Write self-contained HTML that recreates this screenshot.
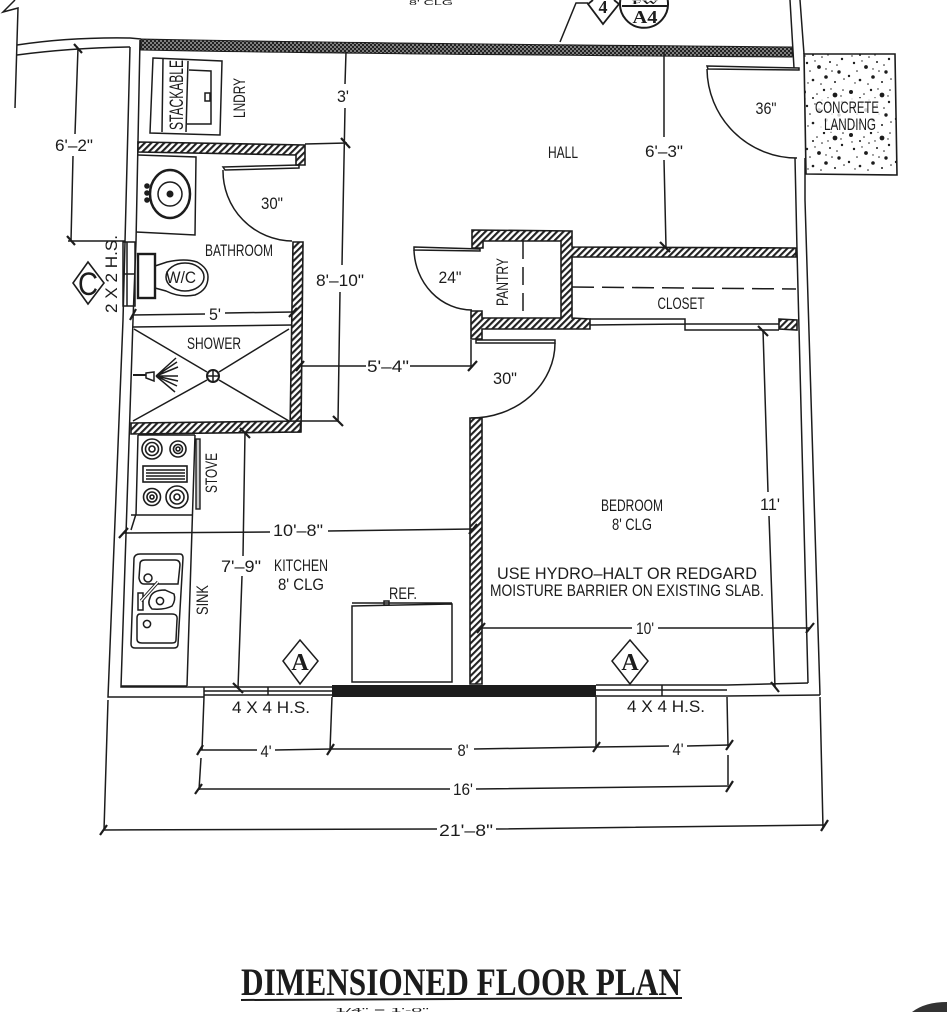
<!DOCTYPE html>
<html><head><meta charset="utf-8"><style>
html,body{margin:0;padding:0;background:#fff;width:947px;height:1012px;overflow:hidden}
svg{display:block}
text{font-family:"Liberation Sans",sans-serif;font-size:16.5px;fill:#1c1c1c;text-anchor:middle}
.l{fill:none;stroke:#1c1c1c;stroke-width:1.5}
.t{fill:none;stroke:#1c1c1c;stroke-width:2.2}
.h{fill:url(#hatch);stroke:#1c1c1c;stroke-width:1.6}
.f{fill:none;stroke:#1c1c1c;stroke-width:2}
.s{font-family:"Liberation Serif",serif;font-weight:bold}
</style></head><body>
<svg width="947" height="1012" viewBox="0 0 947 1012" xmlns="http://www.w3.org/2000/svg">
<defs>
<pattern id="hatch" width="4.6" height="4.6" patternUnits="userSpaceOnUse" patternTransform="rotate(45)"><rect width="4.6" height="4.6" fill="#fff"/><rect width="2.1" height="4.6" fill="#222"/></pattern>
<pattern id="dots" width="4" height="4" patternUnits="userSpaceOnUse"><rect width="4" height="4" fill="#222"/><circle cx="1" cy="1" r=".85" fill="#ccc"/><circle cx="3" cy="3" r=".85" fill="#ccc"/></pattern>
<pattern id="spk" width="47" height="43" patternUnits="userSpaceOnUse"><rect width="47" height="43" fill="#fff"/>
<g fill="#1c1c1c"><circle cx="5" cy="6" r="2"/><circle cx="14" cy="12" r="1"/><circle cx="25" cy="4" r="1.2"/><circle cx="36" cy="9" r="2.4"/><circle cx="43" cy="16" r="1.2"/><circle cx="8" cy="20" r="1.2"/><circle cx="20" cy="24" r="1.9"/><circle cx="31" cy="19" r="1"/><circle cx="40" cy="29" r="1.7"/><circle cx="3" cy="33" r="1.2"/><circle cx="14" cy="37" r="1.3"/><circle cx="27" cy="34" r="1.8"/><circle cx="36" cy="39" r="1"/><circle cx="18" cy="8" r=".8"/><circle cx="44" cy="4" r=".8"/><circle cx="11" cy="28" r=".8"/><circle cx="33" cy="28" r=".8"/><circle cx="23" cy="14" r=".8"/><circle cx="22" cy="41" r=".8"/><circle cx="45" cy="36" r=".8"/><circle cx="29" cy="12" r=".7"/><circle cx="6" cy="13" r=".7"/><circle cx="38" cy="22" r=".8"/><circle cx="16" cy="18" r=".7"/><circle cx="27" cy="26" r=".7"/><circle cx="9" cy="40" r=".7"/><circle cx="42" cy="10" r=".7"/><circle cx="32" cy="3" r=".7"/></g></pattern>
</defs>
<rect width="947" height="1012" fill="#fff"/>

<!-- top-left break and exterior -->
<path class="l" d="M15 0L3 12L18 8L15 108"/>
<path class="l" d="M17 45Q70 37 130 38L141 39M17 55Q70 48 130 47"/>
<!-- exterior left wall -->
<path class="l" d="M130 47L125 242L123 320L108 697H204"/>
<path class="l" d="M140 40L136 242L133 320L121 687H204"/>
<rect class="l" x="123" y="242" width="12" height="64"/>
<path class="l" d="M123 274H135M127 242V306"/>

<!-- top wall -->
<path d="M141 39Q340 43 792 47V57Q340 54 141 50Z" fill="url(#dots)" stroke="#1c1c1c"/>

<!-- right wall -->
<path class="l" d="M790 0L794 68M800 0L804 54M795 158L797 250L808 683M805 158L805 200L820 695"/>
<path class="l" d="M727 685L808 683M727 696L820 695"/>

<!-- bottom wall -->
<path class="l" d="M204 687H332M204 691H332M204 695H332M268 687V695M204 697V687M596 685H727M596 690H727M596 696H727M662 685V696"/>
<rect x="332" y="685" width="264" height="12" fill="#1c1c1c"/>

<!-- concrete -->
<path d="M804 54L895 54L897 175L806 174Z" fill="url(#spk)" stroke="#1c1c1c" stroke-width="1.6"/>
<rect x="816" y="98" width="64" height="34" fill="#fff" opacity=".8"/>

<!-- door 36 -->
<path class="l" d="M707 66L799 68V70L708 69Z"/>
<path class="l" d="M707 69A90 90 0 0 0 797 158"/>

<!-- laundry -->
<path class="l" d="M153 58L222 61L220 135L150 133Z"/>
<path class="l" d="M163 59L162 132M188 61L186 132M189 70L211 71V124H187"/>
<rect class="l" x="205" y="93" width="5" height="8"/>

<!-- bathroom walls -->
<path class="h" d="M138 142L305 145V165L296 165V155L138 152Z"/>
<path class="l" d="M223 167L299 165V168L225 170Z"/>
<path class="l" d="M223 170A70 70 0 0 0 292 241"/>
<path class="h" d="M293 242H303L301 432H290Z"/>
<path class="h" d="M131 423L301 421L300 432L131 434Z"/>

<!-- bath sink -->
<path class="l" d="M138 155L196 157L195 235L136 232"/>
<ellipse cx="170" cy="194" rx="20" ry="24" fill="none" stroke="#1c1c1c" stroke-width="2.5"/>
<circle cx="170" cy="194" r="12" class="l"/>
<circle cx="170" cy="194" r="3.5" fill="#1c1c1c"/>
<g fill="#1c1c1c"><circle cx="147" cy="186" r="2.8"/><circle cx="147" cy="193" r="2.8"/><circle cx="147" cy="200" r="2.8"/></g>

<!-- WC -->
<rect x="138" y="254" width="17" height="44" fill="none" stroke="#1c1c1c" stroke-width="2.4"/>
<path class="l" d="M155 266L167 262Q185 258 197 262Q208 268 208 277Q208 290 195 295Q180 298 166 291L155 288"/>
<ellipse cx="185" cy="277" rx="19" ry="14" class="l"/>

<!-- shower -->
<path class="l" d="M133 327L292 325M134 329L207 372M219 380L289 421M133 421L207 380M219 372L289 329"/>
<circle cx="213" cy="376" r="6" fill="none" stroke="#1c1c1c" stroke-width="2"/>
<path class="l" d="M207 376H219M213 370V382"/>
<path class="f" d="M133 375H146"/>
<path class="l" d="M146 373L154 372V381L146 378ZM156 376L176 358M156 376L177 362M156 376L178 367M156 376H178M156 376L178 381M156 376L177 386M156 376L175 392"/>

<!-- stove -->
<path class="l" d="M138 435L136 515M138 435H195M136 514L131 530M195 435L187 686M121 686H187M131 515H193"/>
<g fill="none" stroke="#1c1c1c" stroke-width="1.6">
<circle cx="152" cy="449" r="10"/><circle cx="152" cy="449" r="6.5"/><circle cx="152" cy="449" r="3"/>
<circle cx="178" cy="449" r="8"/><circle cx="178" cy="449" r="4.5"/><circle cx="178" cy="449" r="2"/>
<circle cx="152" cy="497" r="8.5"/><circle cx="152" cy="497" r="5"/><circle cx="152" cy="497" r="2"/>
<circle cx="177" cy="497" r="11"/><circle cx="177" cy="497" r="7"/><circle cx="177" cy="497" r="3"/>
<rect x="143" y="466" width="44" height="16"/>
<path d="M146 470H185M146 473H185M146 476H185M146 479H185"/>
</g>
<rect x="196" y="439" width="4" height="70" fill="#ccc" stroke="#1c1c1c" stroke-width="1.4"/>

<!-- kitchen sink -->
<path class="l" d="M140 554H180Q183 554 183 558L178 644Q178 648 174 648H135Q131 648 131 644L134 558Q135 554 140 554Z"/>
<path class="l" d="M145 560H175Q180 560 180 565L178 584H144Q140 584 139 578L140 564Q140 560 145 560Z"/>
<path class="l" d="M140 614H172Q178 614 177 620L176 640Q176 643 172 643H142Q137 643 137 639L137 618Q137 614 140 614Z"/>
<path class="l" d="M150 598Q152 590 165 590L174 594Q176 600 172 606Q165 610 152 609Q147 604 150 598Z"/>
<circle cx="148" cy="578" r="4" class="l"/><circle cx="160" cy="601" r="3.6" class="l"/><circle cx="147" cy="624" r="3.6" class="l"/>
<rect x="138" y="593" width="5" height="17" class="l"/>
<path d="M141 601L158 582" stroke="#1c1c1c" stroke-width="3.2" fill="none"/>
<path d="M141 601L158 582" stroke="#fff" stroke-width="1.4" fill="none"/>

<!-- refrigerator -->
<path class="l" d="M352 606L452 604V682H352ZM352 603H452"/>
<rect x="384" y="601" width="5" height="4" class="l"/>

<!-- pantry and closet -->
<path class="h" d="M472 230L572 231V247L796 248V257L572 257V318L590 319V329L482 329V339H471V311H482V318H561V241H483V248H472Z"/>
<path class="l" d="M523 241V318" stroke-dasharray="18 8"/>
<path class="l" d="M572 287L796 289" stroke-dasharray="22 8"/>
<path class="l" d="M414 247L480 249V251L414 250Z"/>
<path class="l" d="M414 250A58 62 0 0 0 472 310"/>
<path class="l" d="M590 319H685V324H779M590 325L685 324V330H779"/>
<path class="h" d="M779 319L797 320V330L779 329Z"/>
<!-- 30 door -->
<path class="l" d="M476 340H555V343H476Z"/>
<path class="l" d="M555 343A84 75 0 0 1 471 418"/>
<path class="h" d="M470 418H482L482 684H470Z"/>

<!-- section markers -->
<path class="l" d="M560 42L576 3H588"/>
<path d="M593 0L588 4L603 24L619 4L614 0" fill="#fff" stroke="#1c1c1c" stroke-width="1.8"/>
<path d="M620.3 0A24 24 0 1 0 667.7 0" fill="#fff" stroke="#1c1c1c" stroke-width="2"/>
<path class="f" d="M622 6H667"/>
<path d="M88 262L104 283L88 304L73 283Z" fill="#fff" stroke="#1c1c1c" stroke-width="1.6"/>
<path d="M300 640L318 661L300 684L283 661Z" fill="#fff" stroke="#1c1c1c" stroke-width="1.5"/>
<path d="M630 640L648 661L630 684L612 661Z" fill="#fff" stroke="#1c1c1c" stroke-width="1.5"/>

<!-- dimension lines -->
<path class="l" d="M78 48L75 134M73 156L71 241M68 241H125"/>
<path class="l" d="M346 52L345 84M345 108L342 265M340 292L338 422M301 421H338M305 144L347 143"/>
<path class="l" d="M664 52L664 137M664 160L666 247"/>
<path class="l" d="M132 315L205 314M225 313L293 312"/>
<path class="l" d="M301 366H366M410 366H473M471 340V366"/>
<path class="l" d="M123 533L270 532M328 531L473 529"/>
<path class="l" d="M245 432L243 556M242 576L238 688"/>
<path class="l" d="M763 330L768 492M769 516L775 687"/>
<path class="l" d="M481 628H632M658 628L810 628"/>
<path class="l" d="M200 750L257 750M275 750L331 749M331 749L452 749M474 749L596 747M596 747L669 746M687 746L729 745"/>
<path class="l" d="M198 789L450 789M476 789L729 786"/>
<path class="l" d="M103 830L437 829M496 829L825 825"/>
<path class="l" d="M108 700L104 830M204 697L202 750M201 758L199 790M332 697L330 750M596 697V748M727 697L728 746M728 755V785M820 697L823 828"/>
<path class="t" d="M74 44L82 53M67 236L75 245M130 320L136 309M289 317L297 308M341 138L350 148M333 416L343 426M660 242L670 252M296 371L304 361M468 371L477 361M240 428L250 438M119 538L128 528M469 534L477 524M233 683L243 693M758 326L768 336M771 682L779 692M477 633L485 623M806 633L814 623M197 755L203 745M327 755L334 744M593 752L600 742M726 750L733 740M195 794L202 784M726 792L733 781M100 835L107 825M821 831L828 820"/>

<!-- labels -->
<text x="431" y="5" style="font-size:7px" textLength="44" lengthAdjust="spacingAndGlyphs">8' CLG</text>
<text x="603" y="13" class="s" style="font-size:18px">4</text>
<text x="645" y="4" class="s" style="font-size:5px" textLength="26" lengthAdjust="spacingAndGlyphs">FW</text>
<text x="645" y="23" class="s" style="font-size:18px" textLength="25" lengthAdjust="spacingAndGlyphs">A4</text>
<text transform="translate(183 95) rotate(-90)" style="font-size:19px" textLength="70" lengthAdjust="spacingAndGlyphs">STACKABLE</text>
<text transform="translate(245 98) rotate(-90)" textLength="40" lengthAdjust="spacingAndGlyphs">LNDRY</text>
<text x="343" y="102" textLength="12" lengthAdjust="spacingAndGlyphs">3'</text>
<text x="664" y="157" textLength="38" lengthAdjust="spacingAndGlyphs">6'–3"</text>
<text x="563" y="158" textLength="30" lengthAdjust="spacingAndGlyphs">HALL</text>
<text x="766" y="114" textLength="21" lengthAdjust="spacingAndGlyphs">36"</text>
<text x="847" y="113" textLength="64" lengthAdjust="spacingAndGlyphs">CONCRETE</text>
<text x="850" y="130" textLength="52" lengthAdjust="spacingAndGlyphs">LANDING</text>
<text x="74" y="151" textLength="38" lengthAdjust="spacingAndGlyphs">6'–2"</text>
<text x="272" y="209" textLength="22" lengthAdjust="spacingAndGlyphs">30"</text>
<text x="239" y="256" textLength="68" lengthAdjust="spacingAndGlyphs">BATHROOM</text>
<text x="181" y="283" textLength="30" lengthAdjust="spacingAndGlyphs">W/C</text>
<text x="215" y="320" textLength="12" lengthAdjust="spacingAndGlyphs">5'</text>
<text x="214" y="349" textLength="54" lengthAdjust="spacingAndGlyphs">SHOWER</text>
<text x="340" y="286" textLength="48" lengthAdjust="spacingAndGlyphs">8'–10"</text>
<text x="388" y="372" textLength="42" lengthAdjust="spacingAndGlyphs">5'–4"</text>
<text x="450" y="283" textLength="23" lengthAdjust="spacingAndGlyphs">24"</text>
<text transform="translate(508 282) rotate(-90)" textLength="48" lengthAdjust="spacingAndGlyphs">PANTRY</text>
<text x="681" y="309" textLength="47" lengthAdjust="spacingAndGlyphs">CLOSET</text>
<text x="505" y="384" textLength="24" lengthAdjust="spacingAndGlyphs">30"</text>
<text x="770" y="510" textLength="20" lengthAdjust="spacingAndGlyphs">11'</text>
<text x="632" y="511" textLength="62" lengthAdjust="spacingAndGlyphs">BEDROOM</text>
<text x="632" y="530" textLength="40" lengthAdjust="spacingAndGlyphs">8' CLG</text>
<text x="627" y="579" textLength="260" lengthAdjust="spacingAndGlyphs">USE HYDRO–HALT OR REDGARD</text>
<text x="627" y="596" textLength="274" lengthAdjust="spacingAndGlyphs">MOISTURE BARRIER ON EXISTING SLAB.</text>
<text transform="translate(217 473) rotate(-90)" textLength="40" lengthAdjust="spacingAndGlyphs">STOVE</text>
<text transform="translate(208 600) rotate(-90)" textLength="30" lengthAdjust="spacingAndGlyphs">SINK</text>
<text x="298" y="536" textLength="50" lengthAdjust="spacingAndGlyphs">10'–8"</text>
<text x="241" y="572" textLength="40" lengthAdjust="spacingAndGlyphs">7'–9"</text>
<text x="301" y="571" textLength="54" lengthAdjust="spacingAndGlyphs">KITCHEN</text>
<text x="301" y="590" textLength="46" lengthAdjust="spacingAndGlyphs">8' CLG</text>
<text x="403" y="599" textLength="28" lengthAdjust="spacingAndGlyphs">REF.</text>
<text x="645" y="634" textLength="18" lengthAdjust="spacingAndGlyphs">10'</text>
<text x="271" y="713" textLength="78" lengthAdjust="spacingAndGlyphs">4 X 4 H.S.</text>
<text x="666" y="712" textLength="78" lengthAdjust="spacingAndGlyphs">4 X 4 H.S.</text>
<text x="266" y="757" textLength="11" lengthAdjust="spacingAndGlyphs">4'</text>
<text x="463" y="756" textLength="11" lengthAdjust="spacingAndGlyphs">8'</text>
<text x="678" y="755" textLength="11" lengthAdjust="spacingAndGlyphs">4'</text>
<text x="463" y="795" textLength="20" lengthAdjust="spacingAndGlyphs">16'</text>
<text x="466" y="836" textLength="54" lengthAdjust="spacingAndGlyphs">21'–8"</text>
<text transform="translate(117 274) rotate(-90)" textLength="78" lengthAdjust="spacingAndGlyphs">2 X 2 H.S.</text>
<text x="88" y="295" style="font-size:32px" textLength="20" lengthAdjust="spacingAndGlyphs">C</text>
<text x="300" y="670" class="s" style="font-size:24px">A</text>
<text x="630" y="670" class="s" style="font-size:24px">A</text>

<!-- title -->
<text x="461" y="995" class="s" style="font-size:39px" textLength="440" lengthAdjust="spacingAndGlyphs">DIMENSIONED FLOOR PLAN</text>
<path d="M241 1000L682 998" stroke="#1c1c1c" stroke-width="2"/>
<text x="382" y="1012" style="font-size:5px" textLength="94" lengthAdjust="spacingAndGlyphs">1/4" = 1'-0"</text>
<path d="M912 1012Q925 1002 947 1002V1012Z" fill="#333"/>
</svg>
</body></html>
